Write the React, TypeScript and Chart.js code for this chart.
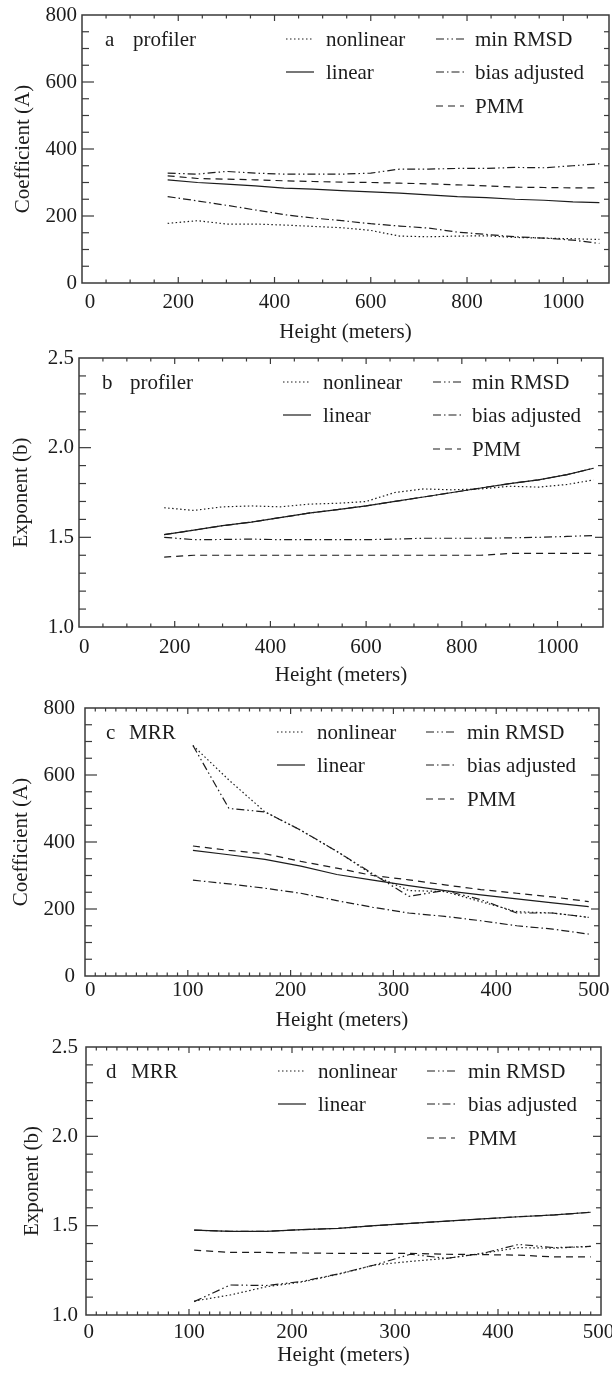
import React, { useEffect, useRef } from 'react';
import { Chart, registerables } from 'chart.js';

Chart.register(...registerables);

// ---------- data ----------
const profilerHeights = [178, 240, 300, 360, 420, 480, 540, 600, 660, 720, 780, 840, 900, 960, 1020, 1075];
const mrrHeights = [105, 140, 175, 210, 245, 280, 315, 350, 385, 420, 455, 490];

const seriesNames = ['nonlinear', 'linear', 'min RMSD', 'bias adjusted', 'PMM'];

// panel a: profiler coefficient A
const profA_nonlinear = [178, 186, 176, 176, 173, 169, 165, 157, 140, 138, 140, 141, 136, 134, 132, 130];
const profA_linear = [308, 300, 295, 290, 283, 280, 276, 272, 268, 263, 258, 255, 250, 247, 242, 240];
const profA_minRMSD = [328, 325, 333, 328, 325, 325, 325, 328, 340, 340, 342, 342, 345, 344, 350, 356];
const profA_bias = [258, 245, 232, 218, 204, 194, 186, 177, 170, 164, 152, 145, 138, 134, 128, 118];
const profA_PMM = [320, 312, 310, 308, 305, 303, 301, 300, 298, 296, 293, 290, 286, 285, 284, 284];

// panel b: profiler exponent b
const profB_nonlinear = [1.665, 1.65, 1.67, 1.675, 1.67, 1.685, 1.69, 1.7, 1.75, 1.77, 1.765, 1.77, 1.785, 1.78, 1.795, 1.82];
const profB_linear = [1.515, 1.54, 1.565, 1.585, 1.61, 1.635, 1.655, 1.675, 1.7, 1.725, 1.75, 1.775, 1.8, 1.82, 1.85, 1.885];
const profB_minRMSD = [1.5, 1.487, 1.488, 1.49, 1.487, 1.487, 1.487, 1.487, 1.49, 1.495, 1.495, 1.495, 1.497, 1.5, 1.505, 1.51];
const profB_bias = [1.515, 1.54, 1.565, 1.585, 1.61, 1.635, 1.655, 1.675, 1.7, 1.725, 1.75, 1.775, 1.8, 1.82, 1.85, 1.885];
const profB_PMM = [1.39, 1.4, 1.4, 1.4, 1.4, 1.4, 1.4, 1.4, 1.4, 1.4, 1.4, 1.4, 1.41, 1.41, 1.41, 1.41];

// panel c: MRR coefficient A
const mrrA_nonlinear = [688, 585, 490, 435, 372, 302, 255, 252, 222, 192, 188, 175];
const mrrA_linear = [375, 362, 348, 328, 303, 286, 270, 255, 242, 230, 218, 207];
const mrrA_minRMSD = [688, 500, 490, 435, 372, 305, 238, 255, 228, 188, 188, 175];
const mrrA_bias = [286, 275, 262, 247, 225, 205, 188, 178, 165, 150, 140, 125];
const mrrA_PMM = [388, 375, 365, 342, 322, 300, 287, 272, 258, 247, 236, 222];

// panel d: MRR exponent b
const mrrB_nonlinear = [1.078, 1.112, 1.158, 1.185, 1.228, 1.28, 1.3, 1.317, 1.345, 1.377, 1.374, 1.384];
const mrrB_linear = [1.475, 1.468, 1.468, 1.478, 1.485, 1.5, 1.513, 1.525, 1.538, 1.55, 1.56, 1.575];
const mrrB_minRMSD = [1.075, 1.168, 1.165, 1.188, 1.23, 1.28, 1.34, 1.317, 1.345, 1.395, 1.377, 1.384];
const mrrB_bias = [1.475, 1.468, 1.468, 1.478, 1.485, 1.5, 1.513, 1.525, 1.538, 1.55, 1.56, 1.575];
const mrrB_PMM = [1.363, 1.35, 1.35, 1.347, 1.345, 1.345, 1.345, 1.34, 1.338, 1.335, 1.325, 1.325];

// ---------- styles ----------
const FONT = "'Liberation Serif', 'Times New Roman', serif";
const INK = '#1c1c1c';
const FRAME = '#3a3a3a';
const dashStyles: number[][] = [[1.5, 2.5], [], [8, 3, 1.5, 3, 1.5, 3], [8, 3, 1.5, 3], [7, 5]];

const isMultiple = (v: number, step: number) => Math.abs(v / step - Math.round(v / step)) < 1e-6;

const stepTicks = (min: number, max: number, step: number) => {
  const out: { value: number }[] = [];
  const n = Math.floor((max - min) / step + 1e-6);
  for (let i = 0; i <= n; i++) out.push({ value: Math.round((min + i * step) * 1e6) / 1e6 });
  return out;
};

const decorPlugin = {
  id: 'panelDecor',
  afterDraw(chart: any, _args: any, opts: any) {
    const { ctx } = chart;
    const { left, right, top, bottom } = chart.chartArea;
    const xs = chart.scales.x;
    const ys = chart.scales.y;
    const line = (x1: number, y1: number, x2: number, y2: number) => {
      ctx.beginPath();
      ctx.moveTo(x1, y1);
      ctx.lineTo(x2, y2);
      ctx.stroke();
    };
    ctx.save();
    ctx.strokeStyle = FRAME;
    ctx.setLineDash([]);
    ctx.lineWidth = 1.5;
    ctx.strokeRect(left, top, right - left, bottom - top);
    ctx.lineWidth = 1.2;
    // x ticks (bottom and top, inward)
    const nX = Math.round((xs.max - xs.min) / opts.xMinor);
    for (let i = 1; i <= nX; i++) {
      const v = xs.min + i * opts.xMinor;
      if (v >= xs.max - 1e-9) break;
      const p = xs.getPixelForValue(v);
      const major = isMultiple(v, opts.xMajor);
      const l = major ? 6 : 3.5;
      line(p, bottom, p, bottom - l);
      line(p, top, p, top + l);
    }
    // y ticks (left and right, inward)
    const nY = Math.round((ys.max - ys.min) / opts.yMinor);
    for (let i = 1; i <= nY; i++) {
      const v = ys.min + i * opts.yMinor;
      if (v >= ys.max - 1e-9) break;
      const p = ys.getPixelForValue(v);
      const major = isMultiple(v, opts.yMajor);
      line(left, p, left + (major ? 12 : 7), p);
      line(right, p, right - (major ? 8 : 5), p);
    }
    // panel tag
    ctx.fillStyle = INK;
    ctx.font = `21px ${FONT}`;
    ctx.textBaseline = 'middle';
    ctx.textAlign = 'left';
    ctx.fillText(opts.tag, left + opts.tagX, top + opts.labelY);
    ctx.fillText(opts.name, left + opts.nameX, top + opts.labelY);
    // legend: two columns
    const cols = [[0, 1], [2, 3, 4]];
    cols.forEach((idxs, c) => {
      idxs.forEach((di, r) => {
        const ds = chart.data.datasets[di];
        const y = top + opts.rows[r];
        const sx = left + opts.cols[c].sample;
        ctx.strokeStyle = INK;
        ctx.lineWidth = 1.2;
        ctx.setLineDash(ds.borderDash || []);
        line(sx, y, sx + opts.sampleLen, y);
        ctx.setLineDash([]);
        ctx.fillText(ds.label, left + opts.cols[c].text, y + 1);
      });
    });
    ctx.restore();
  },
};

type PanelCfg = {
  canvasTop: number;
  canvasH: number;
  padTop: number;
  left: number;
  right: number;
  bottom: number;
  xs: number[];
  series: number[][];
  xMax: number;
  xStep: number;
  xMinor: number;
  yMin: number;
  yMax: number;
  yStep: number;
  yMinor: number;
  yDecimals: number;
  yTitle: string;
  xTickPad: number;
  xTitlePad: number;
  yTickPad: number;
  yTitlePad: number;
  xLabel: (v: number) => string;
  tag: string;
  name: string;
  tagX: number;
  nameX: number;
  legendCols: { sample: number; text: number }[];
};

const profLegend = [{ sample: 204, text: 244 }, { sample: 354, text: 393 }];
const mrrLegend = [{ sample: 192, text: 232 }, { sample: 341, text: 382 }];

const panels: PanelCfg[] = [
  {
    canvasTop: 0, canvasH: 345, padTop: 15, left: 82, right: 609, bottom: 283,
    xs: profilerHeights,
    series: [profA_nonlinear, profA_linear, profA_minRMSD, profA_bias, profA_PMM],
    xMax: 1095, xStep: 200, xMinor: 50,
    yMin: 0, yMax: 800, yStep: 200, yMinor: 50, yDecimals: 0,
    yTitle: 'Coefficient (A)',
    xTickPad: 6.4, xTitlePad: 0, yTickPad: 5, yTitlePad: 10.4,
    xLabel: (v) => (v === 0 ? '   0' : String(v)),
    tag: 'a', name: 'profiler', tagX: 23, nameX: 51, legendCols: profLegend,
  },
  {
    canvasTop: 345, canvasH: 345, padTop: 13, left: 79, right: 603, bottom: 627,
    xs: profilerHeights,
    series: [profB_nonlinear, profB_linear, profB_minRMSD, profB_bias, profB_PMM],
    xMax: 1095, xStep: 200, xMinor: 50,
    yMin: 1, yMax: 2.5, yStep: 0.5, yMinor: 0.1, yDecimals: 1,
    yTitle: 'Exponent (b)',
    xTickPad: 7.4, xTitlePad: 2.4, yTickPad: 5, yTitlePad: 9,
    xLabel: (v) => (v === 0 ? '  0' : String(v)),
    tag: 'b', name: 'profiler', tagX: 23, nameX: 51, legendCols: profLegend,
  },
  {
    canvasTop: 690, canvasH: 345, padTop: 18, left: 85, right: 599, bottom: 976,
    xs: mrrHeights,
    series: [mrrA_nonlinear, mrrA_linear, mrrA_minRMSD, mrrA_bias, mrrA_PMM],
    xMax: 500, xStep: 100, xMinor: 10,
    yMin: 0, yMax: 800, yStep: 200, yMinor: 50, yDecimals: 0,
    yTitle: 'Coefficient (A)',
    xTickPad: 1.4, xTitlePad: 2.4, yTickPad: 10, yTitlePad: 9,
    xLabel: (v) => (v === 0 ? '  0' : v === 500 ? '500  ' : String(v)),
    tag: 'c', name: 'MRR', tagX: 21, nameX: 44, legendCols: mrrLegend,
  },
  {
    canvasTop: 1035, canvasH: 338, padTop: 12, left: 86, right: 601, bottom: 1315,
    xs: mrrHeights,
    series: [mrrB_nonlinear, mrrB_linear, mrrB_minRMSD, mrrB_bias, mrrB_PMM],
    xMax: 500, xStep: 100, xMinor: 10,
    yMin: 1, yMax: 2.5, yStep: 0.5, yMinor: 0.1, yDecimals: 1,
    yTitle: 'Exponent (b)',
    xTickPad: 4.4, xTitlePad: 5.4, yTickPad: 8, yTitlePad: 20,
    xLabel: (v) => (v === 0 ? ' 0' : v === 500 ? '500 ' : String(v)),
    tag: 'd', name: 'MRR', tagX: 20, nameX: 45, legendCols: mrrLegend,
  },
];

function Panel({ cfg }: { cfg: PanelCfg }) {
  const ref = useRef<HTMLCanvasElement | null>(null);
  useEffect(() => {
    if (!ref.current) return;
    const xAxisH = cfg.canvasH - (cfg.bottom - cfg.canvasTop);
    const tickFont = { family: FONT, size: 21 };
    const chart = new Chart(ref.current, {
      type: 'line',
      data: {
        datasets: cfg.series.map((s, i) => ({
          label: seriesNames[i],
          data: cfg.xs.map((x, j) => ({ x, y: s[j] })),
          borderColor: INK,
          borderWidth: 1.2,
          borderDash: dashStyles[i],
          pointRadius: 0,
          fill: false,
          tension: 0,
        })),
      },
      options: {
        responsive: false,
        animation: false,
        devicePixelRatio: 1,
        layout: { padding: { top: cfg.padTop, right: 612 - cfg.right, left: 0, bottom: 0 } },
        plugins: {
          legend: { display: false },
          tooltip: { enabled: false },
          panelDecor: {
            xMinor: cfg.xMinor, xMajor: cfg.xStep, yMinor: cfg.yMinor, yMajor: cfg.yStep,
            tag: cfg.tag, name: cfg.name, tagX: cfg.tagX, nameX: cfg.nameX, labelY: 25,
            rows: [24, 57, 91], sampleLen: 28, cols: cfg.legendCols,
          },
        } as any,
        scales: {
          x: {
            type: 'linear',
            min: 0,
            max: cfg.xMax,
            grid: { display: false, drawTicks: false },
            border: { display: false },
            ticks: {
              stepSize: cfg.xStep,
              includeBounds: false,
              padding: cfg.xTickPad,
              font: tickFont,
              color: INK,
              maxRotation: 0,
              autoSkip: false,
              callback: (v: any) => cfg.xLabel(Number(v)),
            },
            title: {
              display: true,
              text: 'Height (meters)',
              font: tickFont,
              color: INK,
              padding: { top: 0, bottom: cfg.xTitlePad },
            },
            afterBuildTicks: (s: any) => {
              s.ticks = stepTicks(0, cfg.xMax, cfg.xStep);
            },
            afterFit: (s: any) => {
              s.height = xAxisH;
              s.paddingLeft = 0;
              s.paddingRight = 0;
            },
          },
          y: {
            type: 'linear',
            min: cfg.yMin,
            max: cfg.yMax,
            grid: { display: false, drawTicks: false },
            border: { display: false },
            ticks: {
              stepSize: cfg.yStep,
              includeBounds: false,
              padding: cfg.yTickPad,
              font: tickFont,
              color: INK,
              autoSkip: false,
              callback: (v: any) => Number(v).toFixed(cfg.yDecimals),
            },
            title: {
              display: true,
              text: cfg.yTitle,
              font: tickFont,
              color: INK,
              padding: { top: cfg.yTitlePad, bottom: 0 },
            },
            afterBuildTicks: (s: any) => {
              s.ticks = stepTicks(cfg.yMin, cfg.yMax, cfg.yStep);
            },
            afterFit: (s: any) => {
              s.width = cfg.left;
              s.paddingTop = 0;
              s.paddingBottom = 0;
            },
          },
        },
      } as any,
      plugins: [decorPlugin],
    });
    return () => chart.destroy();
  }, [cfg]);
  return (
    <canvas
      ref={ref}
      width={612}
      height={cfg.canvasH}
      style={{ position: 'absolute', left: 0, top: cfg.canvasTop, width: 612, height: cfg.canvasH }}
    />
  );
}

export default function App() {
  return (
    <div style={{ position: 'absolute', left: 0, top: 0, width: 612, height: 1373, background: '#fff' }}>
      {panels.map((p) => (
        <Panel key={p.tag} cfg={p} />
      ))}
    </div>
  );
}
